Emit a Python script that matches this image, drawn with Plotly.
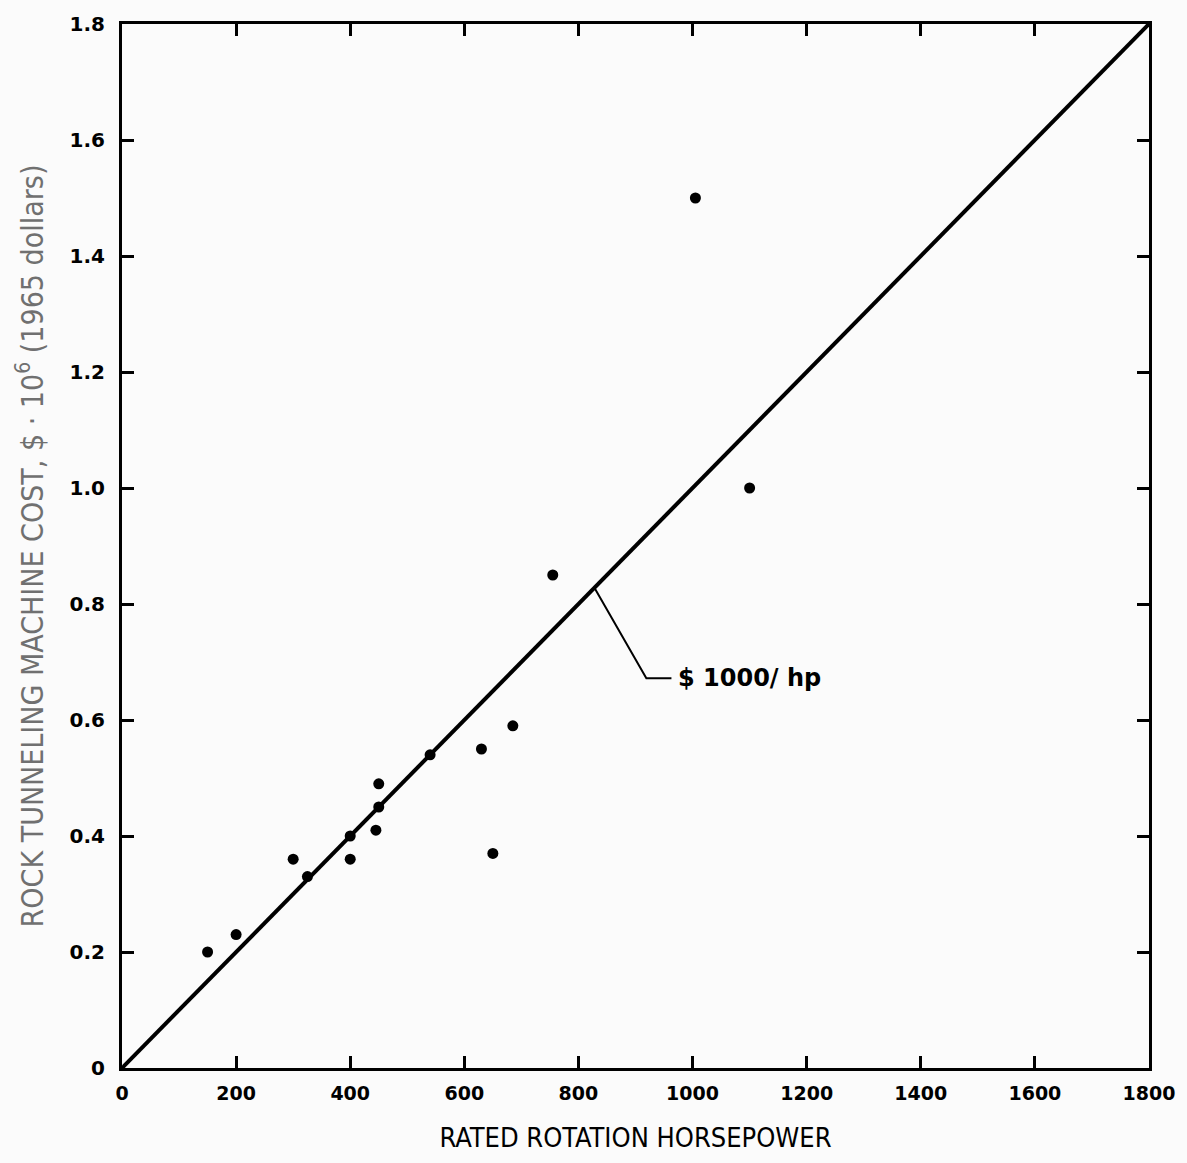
import plotly.graph_objects as go

# Data
horsepower = [150, 200, 300, 325, 400, 400, 445, 450, 450, 540, 630, 685, 650, 755, 1005, 1100]
cost_musd = [0.20, 0.23, 0.36, 0.33, 0.40, 0.36, 0.41, 0.45, 0.49, 0.54, 0.55, 0.59, 0.37, 0.85, 1.50, 1.00]

# $1000/hp reference line
line_hp = [0, 1800]
line_cost = [0.0, 1.8]

x_ticks = [0, 200, 400, 600, 800, 1000, 1200, 1400, 1600, 1800]
x_ticktext = ["0", "200", "400", "600", "800", "1000", "1200", "1400", "1600", "1800"]
y_ticks = [0, 0.2, 0.4, 0.6, 0.8, 1.0, 1.2, 1.4, 1.6, 1.8]
y_ticktext = ["0", "0.2", "0.4", "0.6", "0.8", "1.0", "1.2", "1.4", "1.6", "1.8"]

# Leader for the line label
leader_x = [828, 919, 963]
leader_y = [0.828, 0.672, 0.672]
label_text = "$ 1000/ hp"

fig = go.Figure()
fig.add_trace(go.Scatter(x=line_hp, y=line_cost, mode="lines",
                         line=dict(color="black", width=4), hoverinfo="skip"))
fig.add_trace(go.Scatter(x=leader_x, y=leader_y, mode="lines",
                         line=dict(color="black", width=2), hoverinfo="skip"))
fig.add_trace(go.Scatter(x=horsepower, y=cost_musd, mode="markers",
                         marker=dict(color="black", size=11)))

fig.add_annotation(x=leader_x[-1], y=leader_y[-1], text="<b>" + label_text + "</b>",
                   showarrow=False, xanchor="left", yanchor="middle", xshift=5,
                   font=dict(family="DejaVu Sans", size=24, color="black"))

xtickfont = dict(family="DejaVu Sans", size=19, color="black", weight="bold")
ytickfont = dict(family="DejaVu Sans", size=20, color="black", weight="bold")
fig.update_layout(
    width=1187, height=1163,
    margin=dict(l=122, r=37, t=20, b=95),
    paper_bgcolor="#fbfbfb", plot_bgcolor="#fbfbfb",
    showlegend=False,
    xaxis=dict(range=[0, 1800], tickvals=x_ticks, ticktext=x_ticktext,
               showgrid=False, zeroline=False, showline=True, linecolor="black",
               linewidth=3, mirror="ticks", ticks="inside", ticklen=12, tickwidth=3,
               tickcolor="black", tickfont=xtickfont, ticklabelstandoff=6,
               title=dict(text="RATED ROTATION HORSEPOWER", standoff=26,
                          font=dict(family="DejaVu Sans Condensed, DejaVu Sans", size=27, color="black"))),
    yaxis=dict(range=[0, 1.8], tickvals=y_ticks, ticktext=y_ticktext,
               showgrid=False, zeroline=False, showline=True, linecolor="black",
               linewidth=3, mirror="ticks", ticks="inside", ticklen=12, tickwidth=3,
               tickcolor="black", tickfont=ytickfont, ticklabelstandoff=10,
               title=dict(text="ROCK TUNNELING MACHINE COST, $ · 10<sup>6</sup> (1965 dollars)",
                          standoff=18,
                          font=dict(family="DejaVu Sans Condensed, DejaVu Sans", size=30, color="#707070"))),
)

fig.write_html("out.html")
